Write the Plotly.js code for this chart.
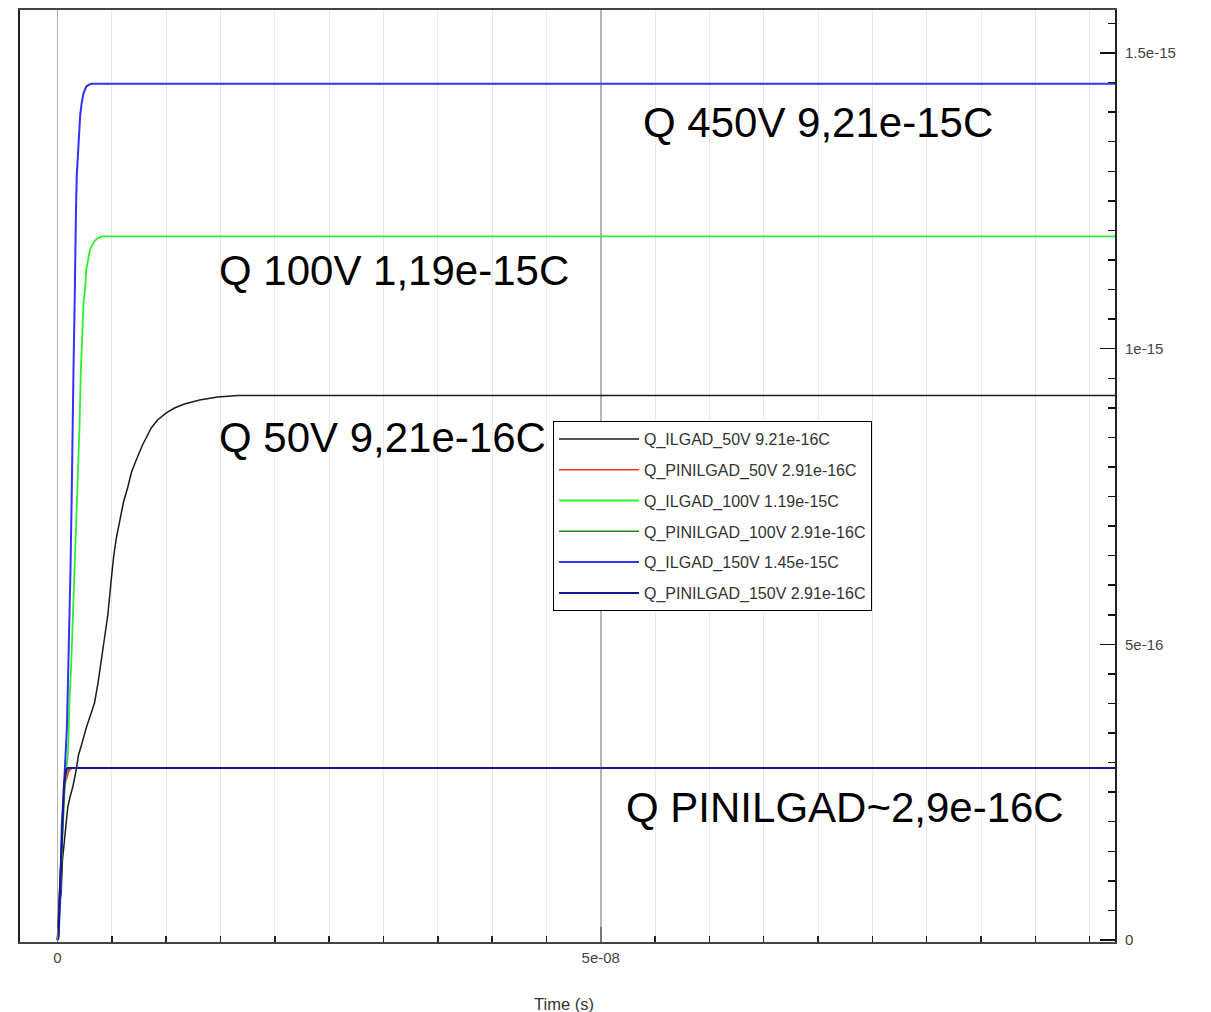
<!DOCTYPE html>
<html>
<head>
<meta charset="utf-8">
<script src="https://cdn.plot.ly/plotly-3.0.1.min.js"></script>
<style>html,body{margin:0;padding:0;background:#fff;}#chart{width:1211px;height:1012px;}</style>
</head>
<body>
<div id="chart"></div>
<script>
// ---- Data (time in seconds, charge in coulombs) ----
const seriesNames = [
  "Q_ILGAD_50V 9.21e-16C",
  "Q_PINILGAD_50V 2.91e-16C",
  "Q_ILGAD_100V 1.19e-15C",
  "Q_PINILGAD_100V 2.91e-16C",
  "Q_ILGAD_150V 1.45e-15C",
  "Q_PINILGAD_150V 2.91e-16C"
];

const tIlgad50 = [0, 0.092e-9, 0.184e-9, 0.341e-9, 0.460e-9, 0.645e-9, 0.801e-9, 0.948e-9, 1.151e-9, 1.409e-9, 1.722e-9, 1.934e-9, 2.210e-9, 2.670e-9, 3.103e-9, 3.407e-9, 3.729e-9, 4.024e-9, 4.328e-9, 4.632e-9, 4.945e-9, 5.184e-9, 5.433e-9, 5.709e-9, 6.077e-9, 6.473e-9, 6.814e-9, 7.247e-9, 7.827e-9, 8.628e-9, 9.208e-9, 10.01e-9, 10.77e-9, 11.69e-9, 13.08e-9, 14.73e-9, 16.57e-9, 100e-9];
const qIlgad50 = [0, 0.254e-16, 0.592e-16, 0.795e-16, 1.353e-16, 1.691e-16, 2.029e-16, 2.249e-16, 2.418e-16, 2.587e-16, 2.875e-16, 3.129e-16, 3.298e-16, 3.602e-16, 3.839e-16, 4.008e-16, 4.346e-16, 4.735e-16, 5.074e-16, 5.496e-16, 6.088e-16, 6.511e-16, 6.815e-16, 7.052e-16, 7.407e-16, 7.661e-16, 7.915e-16, 8.118e-16, 8.371e-16, 8.659e-16, 8.794e-16, 8.913e-16, 8.997e-16, 9.065e-16, 9.132e-16, 9.183e-16, 9.21e-16, 9.21e-16];

const tPin50 = [0, 0.138e-9, 0.276e-9, 0.368e-9, 0.460e-9, 0.552e-9, 0.645e-9, 0.737e-9, 0.875e-9, 1.013e-9, 1.197e-9, 1.381e-9, 100e-9];
const qPin50 = [0, 0.507e-16, 1.184e-16, 1.607e-16, 1.945e-16, 2.283e-16, 2.537e-16, 2.672e-16, 2.774e-16, 2.841e-16, 2.892e-16, 2.91e-16, 2.91e-16];

const tIlgad100 = [0, 0.138e-9, 0.249e-9, 0.368e-9, 0.506e-9, 0.645e-9, 0.783e-9, 0.948e-9, 1.031e-9, 1.105e-9, 1.262e-9, 1.409e-9, 1.519e-9, 1.630e-9, 1.722e-9, 1.777e-9, 1.869e-9, 2.026e-9, 2.145e-9, 2.274e-9, 2.394e-9, 2.551e-9, 2.643e-9, 2.790e-9, 2.947e-9, 3.103e-9, 3.269e-9, 3.407e-9, 3.711e-9, 4.144e-9, 100e-9];
const qIlgad100 = [0, 0.338e-16, 0.761e-16, 1.353e-16, 2.029e-16, 2.537e-16, 2.841e-16, 3.129e-16, 3.501e-16, 4.059e-16, 4.651e-16, 5.412e-16, 6.004e-16, 6.680e-16, 7.018e-16, 7.441e-16, 7.949e-16, 8.676e-16, 9.606e-16, 10.23e-16, 10.77e-16, 11.03e-16, 11.33e-16, 11.47e-16, 11.64e-16, 11.72e-16, 11.79e-16, 11.82e-16, 11.87e-16, 11.9e-16, 11.9e-16];

const tPin100 = [0, 0.138e-9, 0.230e-9, 0.322e-9, 0.414e-9, 0.506e-9, 0.599e-9, 0.691e-9, 0.829e-9, 1.013e-9, 1.151e-9, 100e-9];
const qPin100 = [0, 0.592e-16, 1.015e-16, 1.438e-16, 1.860e-16, 2.232e-16, 2.503e-16, 2.706e-16, 2.841e-16, 2.892e-16, 2.91e-16, 2.91e-16];

const tIlgad150 = [0, 0.092e-9, 0.249e-9, 0.322e-9, 0.396e-9, 0.552e-9, 0.709e-9, 0.856e-9, 0.948e-9, 1.105e-9, 1.197e-9, 1.317e-9, 1.409e-9, 1.473e-9, 1.584e-9, 1.630e-9, 1.703e-9, 1.777e-9, 1.888e-9, 1.961e-9, 2.090e-9, 2.238e-9, 2.394e-9, 2.643e-9, 2.854e-9, 3.131e-9, 100e-9];
const qIlgad150 = [0, 0.034e-16, 0.676e-16, 1.184e-16, 1.945e-16, 2.435e-16, 2.993e-16, 3.551e-16, 4.228e-16, 5.243e-16, 6.258e-16, 7.610e-16, 8.456e-16, 9.640e-16, 10.82e-16, 11.67e-16, 12.35e-16, 12.94e-16, 13.36e-16, 13.61e-16, 13.95e-16, 14.17e-16, 14.32e-16, 14.43e-16, 14.46e-16, 14.48e-16, 14.48e-16];

const tPin150 = [0, 0.092e-9, 0.184e-9, 0.276e-9, 0.341e-9, 0.414e-9, 0.506e-9, 0.599e-9, 0.709e-9, 0.783e-9, 0.921e-9, 100e-9];
const qPin150 = [0, 0.085e-16, 0.676e-16, 1.184e-16, 1.522e-16, 1.945e-16, 2.368e-16, 2.621e-16, 2.790e-16, 2.875e-16, 2.91e-16, 2.91e-16];

const xTickVals = [0, 5e-8];
const xTickText = ["0", "5e-08"];
const yTickVals = [0, 5e-16, 1e-15, 1.5e-15];
const yTickText = ["0", "5e-16", "1e-15", "1.5e-15"];

const noteTexts = ["Q 450V 9,21e-15C", "Q 100V 1,19e-15C", "Q 50V 9,21e-16C", "Q PINILGAD~2,9e-16C"];

// ---- Styling ----
const colors = ["#1a1a1a", "#ff3030", "#30ee30", "#188a18", "#3232ff", "#16168e"];
const widths = [1.5, 1.6, 1.8, 1.6, 2, 2];
const xs = [tIlgad50, tPin50, tIlgad100, tPin100, tIlgad150, tPin150];
const ys = [qIlgad50, qPin50, qIlgad100, qPin100, qIlgad150, qPin150];

const traces = seriesNames.map((n, i) => ({
  type: "scatter", mode: "lines", name: n, x: xs[i], y: ys[i],
  legendgroup: "g" + i,
  line: {color: colors[i], width: widths[i]},
  hoverinfo: "skip"
}));

// plot area in pixels: x 20..1115, y 10..942
const L = 20, R = 1115, T = 10, B = 942;
const px = v => (v - L) / (R - L);
const py = v => (B - v) / (B - T);
const notePos = [[641, 123], [217, 270], [217, 437], [624, 807]];
const annotations = noteTexts.map((t, i) => ({
  text: t, xref: "paper", yref: "paper",
  x: px(notePos[i][0]), y: py(notePos[i][1]),
  xanchor: "left", yanchor: "middle", showarrow: false,
  font: {family: "Liberation Sans, Arial, sans-serif", size: 42, color: "#000"}
}));
annotations.push({
  text: "Time (s)", xref: "paper", yref: "paper", x: px(564), y: py(1004),
  xanchor: "center", yanchor: "middle", showarrow: false,
  font: {family: "Liberation Sans, Arial, sans-serif", size: 16.5, color: "#333"}
});

const layout = {
  width: 1211, height: 1012,
  margin: {l: L, r: 1211 - R, t: T, b: 1012 - B, pad: 0},
  paper_bgcolor: "#fff", plot_bgcolor: "#fff",
  showlegend: true,
  legend: {
    x: px(553), y: py(421), xanchor: "left", yanchor: "top",
    bgcolor: "#fff", bordercolor: "#000", borderwidth: 1,
    font: {family: "Liberation Sans, Arial, sans-serif", size: 16, color: "#333"},
    traceorder: "grouped", tracegroupgap: 7, itemwidth: 80
  },
  xaxis: {
    range: [-3.45e-9, 9.733e-8],
    tickmode: "array", tickvals: xTickVals, ticktext: xTickText,
    ticks: "inside", ticklen: 15, tickwidth: 1.5, tickcolor: "#777",
    showgrid: true, gridcolor: "#b4b4b4", gridwidth: 1.5,
    zeroline: false,
    showline: true, linecolor: "#444", linewidth: 2, mirror: true,
    minor: {dtick: 5e-9, tick0: 0, ticks: "inside", ticklen: 6, tickwidth: 1.5, tickcolor: "#222", showgrid: true, gridcolor: "#e8e8e8", gridwidth: 1},
    tickfont: {family: "Liberation Sans, Arial, sans-serif", size: 15, color: "#444"},
    ticklabelstandoff: 1
  },
  yaxis: {
    side: "right",
    range: [-3.4e-18, 1.5728e-15],
    tickmode: "array", tickvals: yTickVals, ticktext: yTickText,
    ticks: "inside", ticklen: 15, tickwidth: 1.5, tickcolor: "#111",
    showgrid: false, zeroline: false,
    showline: true, linecolor: "#222", linewidth: 2, mirror: true,
    minor: {dtick: 5e-17, tick0: 0, ticks: "inside", ticklen: 7, tickwidth: 1.5, tickcolor: "#111", showgrid: false},
    tickfont: {family: "Liberation Sans, Arial, sans-serif", size: 15, color: "#444"},
    ticklabelstandoff: 5
  },
  annotations: annotations
};

Plotly.newPlot("chart", traces, layout, {displayModeBar: false, staticPlot: true});
</script>
</body>
</html>
